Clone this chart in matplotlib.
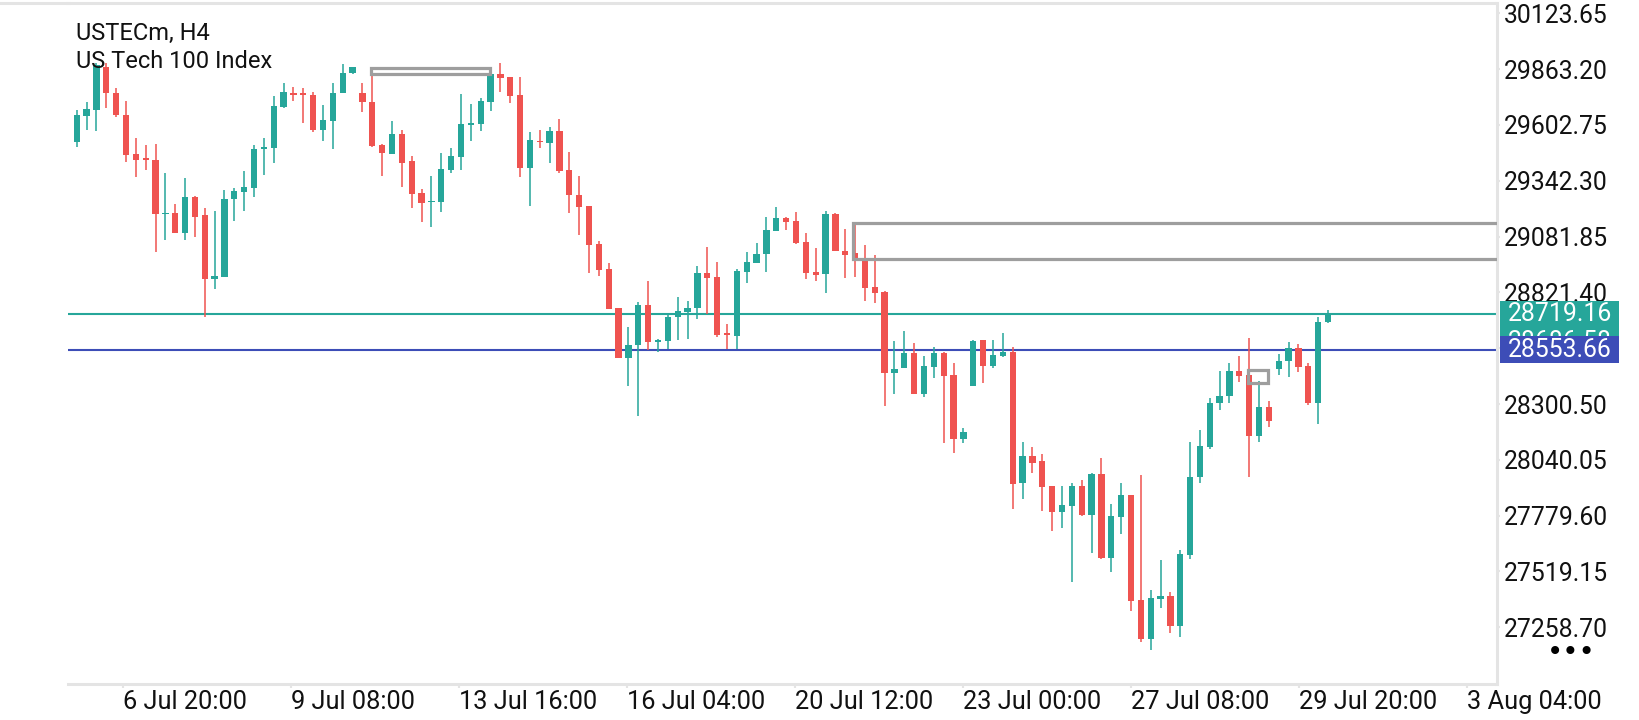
import numpy as np
import matplotlib.pyplot as plt
from matplotlib.patches import Rectangle
from matplotlib.lines import Line2D
from matplotlib.transforms import blended_transform_factory

plt.rcParams['font.family'] = ['Roboto', 'DejaVu Sans']

# USTECm H4 candles
opens = [29524, 29646, 29672, 29871, 29753, 29649, 29467, 29444, 29439, 29185,
         29192, 29097, 29268, 29182, 28885, 28895, 29258, 29291, 29310, 29489,
         29496, 29688, 29753, 29745, 29742, 29579, 29622, 29750, 29846, 29753,
         29711, 29509, 29468, 29559, 29434, 29283, 29241, 29243, 29392, 29454,
         29604, 29608, 29711, 29840, 29824, 29742, 29403, 29529, 29520, 29576,
         29392, 29276, 29224, 29047, 28930, 28748, 28517, 28576, 28762, 28590,
         28596, 28705, 28731, 28747, 28913, 28895, 28627, 28619, 28918, 28960,
         29000, 29109, 29170, 29156, 29058, 28918, 28907, 29187, 29016, 29007,
         28972, 28845, 28822, 28444, 28467, 28540, 28346, 28475, 28540, 28436,
         28139, 28386, 28599, 28479, 28526, 28545, 27930, 28058, 28035, 27918,
         27798, 27826, 27918, 27783, 27974, 27584, 27775, 27876, 27386, 27204,
         27392, 27405, 27266, 27596, 27958, 28101, 28304, 28338, 28456, 28436,
         28153, 28288, 28462, 28503, 28560, 28478, 28307, 28685]
highs = [29672, 29711, 29890, 29890, 29773, 29714, 29540, 29509, 29514, 29377,
         29234, 29356, 29273, 29213, 29201, 29299, 29310, 29388, 29509, 29543,
         29737, 29800, 29781, 29773, 29758, 29695, 29800, 29887, 29874, 29800,
         29856, 29512, 29621, 29579, 29457, 29302, 29364, 29470, 29496, 29747,
         29700, 29727, 29862, 29893, 29824, 29828, 29568, 29579, 29591, 29630,
         29475, 29364, 29224, 29061, 28957, 28748, 28661, 28778, 28874, 28602,
         28716, 28801, 28783, 28944, 29034, 28965, 28674, 28929, 29011, 29053,
         29175, 29221, 29175, 29195, 29100, 29030, 29201, 29193, 29117, 29136,
         29042, 28996, 28829, 28594, 28641, 28584, 28525, 28568, 28545, 28490,
         28187, 28599, 28599, 28599, 28630, 28568, 28122, 28101, 28067, 27918,
         27920, 27930, 27946, 27977, 28050, 27834, 27930, 27876, 27969, 27433,
         27573, 27423, 27620, 28122, 28179, 28327, 28456, 28490, 28524, 28607,
         28409, 28314, 28534, 28591, 28580, 28490, 28705, 28739]
lows = [29501, 29579, 29576, 29680, 29641, 29431, 29358, 29392, 29011, 29066,
        29097, 29066, 29081, 28708, 28836, 28895, 29154, 29201, 29268, 29369,
        29423, 29680, 29716, 29613, 29571, 29529, 29489, 29750, 29840, 29664,
        29501, 29366, 29468, 29314, 29216, 29151, 29128, 29198, 29377, 29392,
        29529, 29576, 29669, 29758, 29703, 29361, 29226, 29493, 29426, 29380,
        29193, 29089, 28913, 28898, 28742, 28517, 28386, 28245, 28552, 28545,
        28556, 28599, 28605, 28696, 28720, 28615, 28556, 28556, 28867, 28957,
        28918, 29109, 29112, 29047, 28884, 28876, 28820, 29016, 28890, 28892,
        28783, 28773, 28293, 28346, 28467, 28346, 28332, 28420, 28117, 28074,
        28120, 28386, 28397, 28467, 28518, 27809, 27856, 27977, 27803, 27710,
        27721, 27472, 27780, 27604, 27576, 27515, 27693, 27336, 27192, 27153,
        27350, 27231, 27215, 27576, 27934, 28089, 28273, 28307, 28405, 27962,
        28125, 28195, 28436, 28428, 28451, 28296, 28206, 28680]
closes = [29649, 29677, 29882, 29750, 29649, 29462, 29439, 29439, 29185, 29190,
          29097, 29268, 29175, 28885, 28898, 29257, 29294, 29315, 29490, 29501,
          29691, 29756, 29742, 29742, 29579, 29625, 29753, 29846, 29871, 29711,
          29504, 29470, 29559, 29426, 29282, 29240, 29248, 29395, 29457, 29607,
          29610, 29714, 29840, 29823, 29739, 29403, 29532, 29521, 29574, 29388,
          29276, 29221, 29042, 28926, 28745, 28517, 28576, 28762, 28591, 28596,
          28708, 28734, 28750, 28913, 28890, 28622, 28622, 28923, 28965, 29000,
          29112, 29170, 29151, 29050, 28913, 28902, 29187, 29016, 28997, 28972,
          28843, 28820, 28444, 28462, 28540, 28346, 28479, 28537, 28433, 28139,
          28168, 28594, 28479, 28529, 28542, 27926, 28058, 28027, 27915, 27798,
          27829, 27918, 27783, 27974, 27584, 27778, 27876, 27383, 27204, 27394,
          27405, 27266, 27599, 27958, 28105, 28307, 28338, 28456, 28433, 28153,
          28288, 28223, 28501, 28560, 28475, 28307, 28685, 28719]

price_ticks = [27258.70, 27519.15, 27779.60, 28040.05, 28300.50, 28560.95,
               28821.40, 29081.85, 29342.30, 29602.75, 29863.20, 30123.65]
date_labels = ['6 Jul 20:00', '9 Jul 08:00', '13 Jul 16:00', '16 Jul 04:00',
               '20 Jul 12:00', '23 Jul 00:00', '27 Jul 08:00', '29 Jul 20:00',
               '3 Aug 04:00']
date_pos = [4.67, 21.72, 38.77, 55.82, 72.87, 89.92, 106.97, 124.02, 141.07]

bid_price = 28719.16
ask_price = 28553.66
hidden_label = '28686.58'
hidden_price = 28590

# gray zones (bar index range, price range)
zone_x0 = [29.9, 78.8, 118.9]
zone_x1 = [41.95, 150, 120.9]
zone_lo = [29840, 28976, 28397]
zone_hi = [29867, 29144, 28459]

UP = '#26a69a'
DOWN = '#ef5350'
BLUE = '#3d4db7'
GRID = '#e4e4e4'
INK = '#111111'

W, H = 1640, 720
fig = plt.figure(figsize=(W / 100, H / 100), dpi=100)
ax = fig.add_axes([68 / W, 36 / H, 1429 / W, 681 / H])
ymin, ymax = 26994.2, 30171.4
ax.set_xlim(-0.883, 144.15)
ax.set_ylim(ymin, ymax)
ppx = (ymax - ymin) / 681.0

o = np.array(opens, float)
h = np.array(highs, float)
l = np.array(lows, float)
c = np.array(closes, float)
x = np.arange(len(o))
cols = np.where(c >= o, UP, DOWN)

ax.vlines(x, l, h, colors=cols, linewidth=1.1, zorder=3)
body_h = np.maximum(np.abs(c - o), 1.6 * ppx)
ax.bar(x, body_h, bottom=np.minimum(o, c), width=0.64, color=cols,
       linewidth=0, zorder=4)

for x0, x1, lo, hi in zip(zone_x0, zone_x1, zone_lo, zone_hi):
    ax.add_patch(Rectangle((x0, lo), x1 - x0, hi - lo, fill=False,
                           edgecolor='#9e9e9e', linewidth=2.3, zorder=5))

ax.axhline(bid_price, color=UP, linewidth=1.5, zorder=2)
ax.axhline(ask_price, color=BLUE, linewidth=1.5, zorder=2)

ax.spines['left'].set_visible(False)
for s in ['top', 'right', 'bottom']:
    ax.spines[s].set_color(GRID)
    ax.spines[s].set_linewidth(2.2)
fig.add_artist(Line2D([0, 68 / W], [1 - 2.5 / H, 1 - 2.5 / H], color=GRID,
                      linewidth=2.2))

ax.yaxis.tick_right()
ax.set_yticks(price_ticks)
ax.set_yticklabels([f'{p:.2f}' for p in price_ticks])
ax.tick_params(axis='y', length=2.2, width=1.5, color=GRID, pad=2.6,
               labelsize=17.8, labelcolor=INK)
ax.set_xticks(date_pos)
ax.set_xticklabels([])
ax.tick_params(axis='x', length=3, width=1.5, color=GRID)
xtr = blended_transform_factory(ax.transData, ax.transAxes)
for p, lab in zip(date_pos, date_labels):
    ax.text(p, -0.0264, lab, transform=xtr, ha='left', va='center',
            fontsize=18.3, color=INK)

# price labels on the right scale
ytr = blended_transform_factory(ax.transAxes, ax.transData)
bx0 = (1500 - 68) / 1429
bw = 119 / 1429
tx = (1508 - 68) / 1429
half = 13.5 * ppx
for price, txt, fc, z in [(bid_price, f'{bid_price:.2f}', UP, 6),
                          (hidden_price, hidden_label, UP, 6),
                          (ask_price, f'{ask_price:.2f}', BLUE, 8)]:
    ax.add_patch(Rectangle((bx0, price - half), bw, 2 * half, transform=ytr,
                           facecolor=fc, edgecolor='none', clip_on=False,
                           zorder=z))
    ax.text(tx, price, txt, transform=ytr, ha='left', va='center',
            fontsize=17.8, color='white', clip_on=False, zorder=z + 1)

fig.text(76 / W, 1 - 33.5 / H, 'USTECm, H4', ha='left', va='center',
         fontsize=17, color=INK)
fig.text(76 / W, 1 - 61.5 / H, 'US Tech 100 Index', ha='left', va='center',
         fontsize=17, color=INK)
fig.text(1571 / W, 1 - 652 / H, '\u2022\u2022\u2022', ha='center', va='center',
         fontsize=20, color='black', family='DejaVu Sans')

fig.savefig('out.png', dpi=100, facecolor='white')
